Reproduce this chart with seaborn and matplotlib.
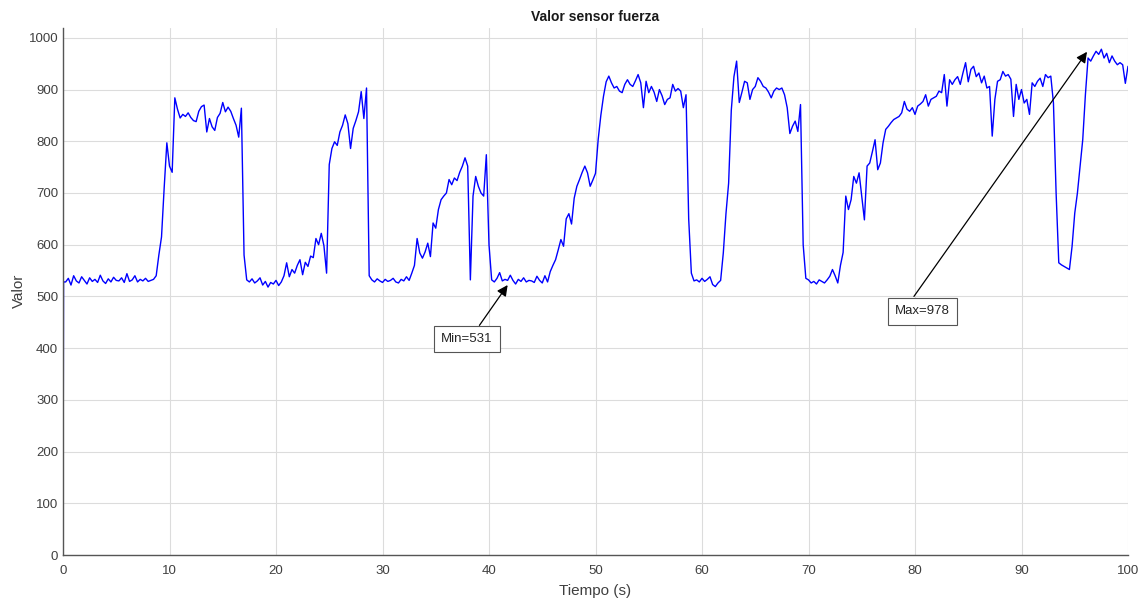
import numpy as np
import pandas as pd
import matplotlib
matplotlib.use("Agg")
import matplotlib.pyplot as plt
import seaborn as sns

# Force sensor reading, sampled every 0.25 s after the initial jump from 0
tiempo_inicio = [0.0, 0.05]
valor_inicio = [0, 528]
paso = 0.25
valor = [
    528, 535, 522, 540, 530, 526, 538, 531, 524, 536, 529, 533, 527, 541, 530, 525, 534, 528, 537, 531,
    530, 536, 527, 544, 529, 532, 540, 528, 533, 530, 535, 529, 531, 533, 540, 580, 615, 710, 797, 752,
    740, 884, 862, 845, 852, 848, 855, 846, 840, 838, 858, 867, 870, 818, 844, 828, 821, 846, 854, 875,
    857, 866, 858, 844, 831, 808, 864, 580, 532, 528, 534, 526, 530, 536, 522, 529, 518, 527, 524, 531,
    521, 528, 540, 565, 538, 552, 545, 560, 571, 542, 566, 558, 578, 575, 612, 600, 622, 598, 545, 755,
    786, 799, 792, 818, 831, 851, 834, 786, 825, 840, 857, 896, 844, 903, 540, 532, 528, 534, 530, 527,
    533, 529, 531, 535, 528, 526, 533, 530, 538, 531, 545, 560, 612, 584, 574, 586, 603, 577, 642, 632,
    668, 687, 694, 700, 726, 716, 729, 724, 740, 752, 768, 752, 532, 694, 732, 713, 700, 694, 774, 600,
    532, 528, 535, 546, 530, 533, 531, 541, 531, 524, 533, 529, 536, 528, 531, 530, 527, 539, 531, 526,
    540, 528, 548, 560, 571, 590, 610, 597, 650, 660, 640, 690, 713, 726, 740, 752, 739, 713, 725, 738,
    803, 850, 887, 915, 926, 913, 903, 906, 897, 894, 910, 919, 910, 906, 917, 929, 913, 865, 916, 894,
    906, 895, 877, 900, 888, 871, 881, 884, 910, 897, 902, 897, 865, 890, 650, 545, 530, 532, 528, 535,
    529, 533, 538, 523, 519, 526, 531, 584, 660, 719, 860, 925, 955, 875, 895, 916, 913, 881, 900, 906,
    923, 916, 906, 903, 895, 884, 897, 903, 900, 903, 890, 865, 815, 829, 839, 819, 871, 600, 535, 532,
    526, 529, 524, 532, 529, 526, 532, 539, 552, 540, 526, 560, 585, 694, 668, 687, 732, 719, 739, 694,
    648, 752, 758, 780, 803, 745, 758, 797, 823, 829, 836, 842, 845, 848, 855, 877, 862, 858, 865, 852,
    868, 872, 877, 890, 868, 881, 884, 887, 897, 894, 929, 868, 919, 910, 919, 925, 910, 932, 952, 915,
    939, 945, 925, 932, 913, 926, 903, 906, 810, 881, 916, 919, 935, 926, 929, 920, 848, 910, 881, 900,
    874, 881, 852, 913, 906, 916, 922, 906, 929, 923, 926, 874, 700, 565, 561, 558, 555, 552, 597, 661,
    700, 752, 803, 890, 961, 955, 965, 974, 968, 978, 961, 970, 952, 965, 955, 948, 952, 948, 912, 945,
]
x_ticks = [0, 10, 20, 30, 40, 50, 60, 70, 80, 90, 100]
y_ticks = [0, 100, 200, 300, 400, 500, 600, 700, 800, 900, 1000]
etiqueta_min = "Min=531"
etiqueta_max = f"Max={max(valor)}"

tiempo = tiempo_inicio + [paso * (k + 1) for k in range(len(valor))]
datos = pd.DataFrame({"Tiempo": tiempo, "Valor": valor_inicio + valor})

sns.set_style("white")
plt.rcParams["font.family"] = ["Liberation Sans", "DejaVu Sans"]

fig = plt.figure(figsize=(11.41, 5.98), dpi=100)
ax = fig.add_axes([63 / 1141, 1 - 555 / 598, 1065 / 1141, 527.5 / 598])

sns.lineplot(data=datos, x="Tiempo", y="Valor", ax=ax, color=(0, 0, 1),
             linewidth=1.0, estimator=None, sort=False)

ax.set_xlim(0, 100)
ax.set_ylim(0, 1020)
ax.set_xticks(x_ticks)
ax.set_yticks(y_ticks)
ax.grid(True, color="#dcdcdc", linewidth=0.8)
ax.set_axisbelow(True)

for lado in ["top", "right"]:
    ax.spines[lado].set_visible(False)
for lado in ["left", "bottom"]:
    ax.spines[lado].set_color("#555555")
    ax.spines[lado].set_linewidth(1.0)
ax.tick_params(direction="in", length=8, width=0.9, color="#333333",
               labelsize=9.5, labelcolor="#404040")
ax.tick_params(axis="x", pad=7)
ax.tick_params(axis="y", pad=3.5)

ax.set_title("Valor sensor fuerza", fontsize=10, fontweight="bold", color="#1a1a1a", pad=5)
ax.set_xlabel("Tiempo (s)", fontsize=11, color="#404040", labelpad=5)
ax.set_ylabel("Valor", fontsize=11, color="#404040", labelpad=2)

caja = dict(boxstyle="square,pad=0.55", facecolor="white", edgecolor="#555555", linewidth=0.8)
flecha = dict(arrowstyle="-|>", color="black", lw=0.9, mutation_scale=16, shrinkA=0, shrinkB=0)

ax.annotate("", xy=(41.75, 522), xytext=(39.1, 444), arrowprops=flecha)
ax.text(37.9, 418, etiqueta_min, fontsize=9.5, color="#262626", ha="center", va="center", bbox=caja)

ax.annotate("", xy=(96.15, 973), xytext=(79.9, 500), arrowprops=flecha)
ax.text(80.7, 471, etiqueta_max, fontsize=9.5, color="#262626", ha="center", va="center", bbox=caja)

fig.savefig("out.png", dpi=100)
